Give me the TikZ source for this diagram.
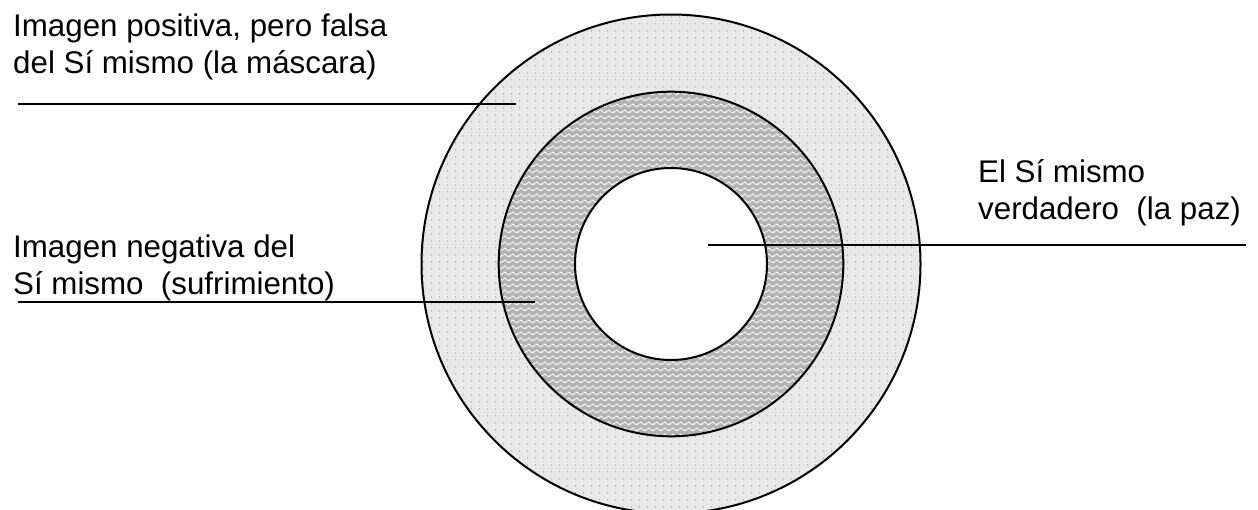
\documentclass[tikz,border=0pt]{standalone}
\usepackage{fontspec}
\setmainfont{Liberation Sans}
\usetikzlibrary{patterns.meta}
\definecolor{ringlight}{HTML}{E8E8E8}
\definecolor{ringdot}{HTML}{ADADAD}
\definecolor{ringdark}{HTML}{B3B3B3}
\tikzdeclarepattern{
  name=graydots,
  type=colored,
  bottom left={(0pt,0pt)},
  top right={(7.5pt,7pt)},
  tile size={(7.5pt,7pt)},
  code={\fill[ringdot] (3.75pt,3.5pt) circle (0.85pt);}
}
\tikzdeclarepattern{
  name=whitewaves,
  type=colored,
  bottom left={(0pt,0pt)},
  top right={(7.5pt,6pt)},
  tile size={(7.5pt,6pt)},
  code={\draw[white,line width=0.8pt] (0pt,3pt) sin (1.875pt,4.8pt) cos (3.75pt,3pt) sin (5.625pt,1.2pt) cos (7.5pt,3pt);}
}
\begin{document}
\begin{tikzpicture}[x=1pt,y=-1pt,
  ring/.style={circle,draw=black,line width=2pt,inner sep=0pt},
  leader/.style={draw=black,line width=1.7pt},
  label/.style={anchor=base west,inner sep=0pt,font=\fontsize{31.3}{37}\selectfont}]
\useasboundingbox (0,0) rectangle (1258,509);
\begin{scope}
\clip (0,0) rectangle (1258,509);
\coordinate (c) at (671,264);
\node[ring,minimum size=499pt,preaction={fill=ringlight},preaction={pattern=graydots}] (outer) at (c) {};
\node[ring,minimum size=344.6pt,preaction={fill=ringdark},preaction={pattern=whitewaves}] (middle) at (c) {};
\node[ring,minimum size=192pt,fill=white] (inner) at (c) {};
\end{scope}
\coordinate (p1s) at (18,104);
\coordinate (p1e) at (516,104);
\coordinate (p2s) at (18,302);
\coordinate (p2e) at (535,302);
\coordinate (p3s) at (708,245);
\coordinate (p3e) at (1246,245);
\draw[leader] (p1s) -- (p1e);
\draw[leader] (p2s) -- (p2e);
\draw[leader] (p3s) -- (p3e);
\node[label] (lpos) at (13,36) {\begin{tabular}[t]{@{}l@{}}Imagen positiva, pero falsa\\del Sí mismo (la máscara)\end{tabular}};
\node[label] (lneg) at (13,257) {\begin{tabular}[t]{@{}l@{}}Imagen negativa del\\Sí mismo~~(sufrimiento)\end{tabular}};
\node[label] (ltrue) at (978,182) {\begin{tabular}[t]{@{}l@{}}El Sí mismo\\verdadero~~(la paz)\end{tabular}};
\end{tikzpicture}
\end{document}
